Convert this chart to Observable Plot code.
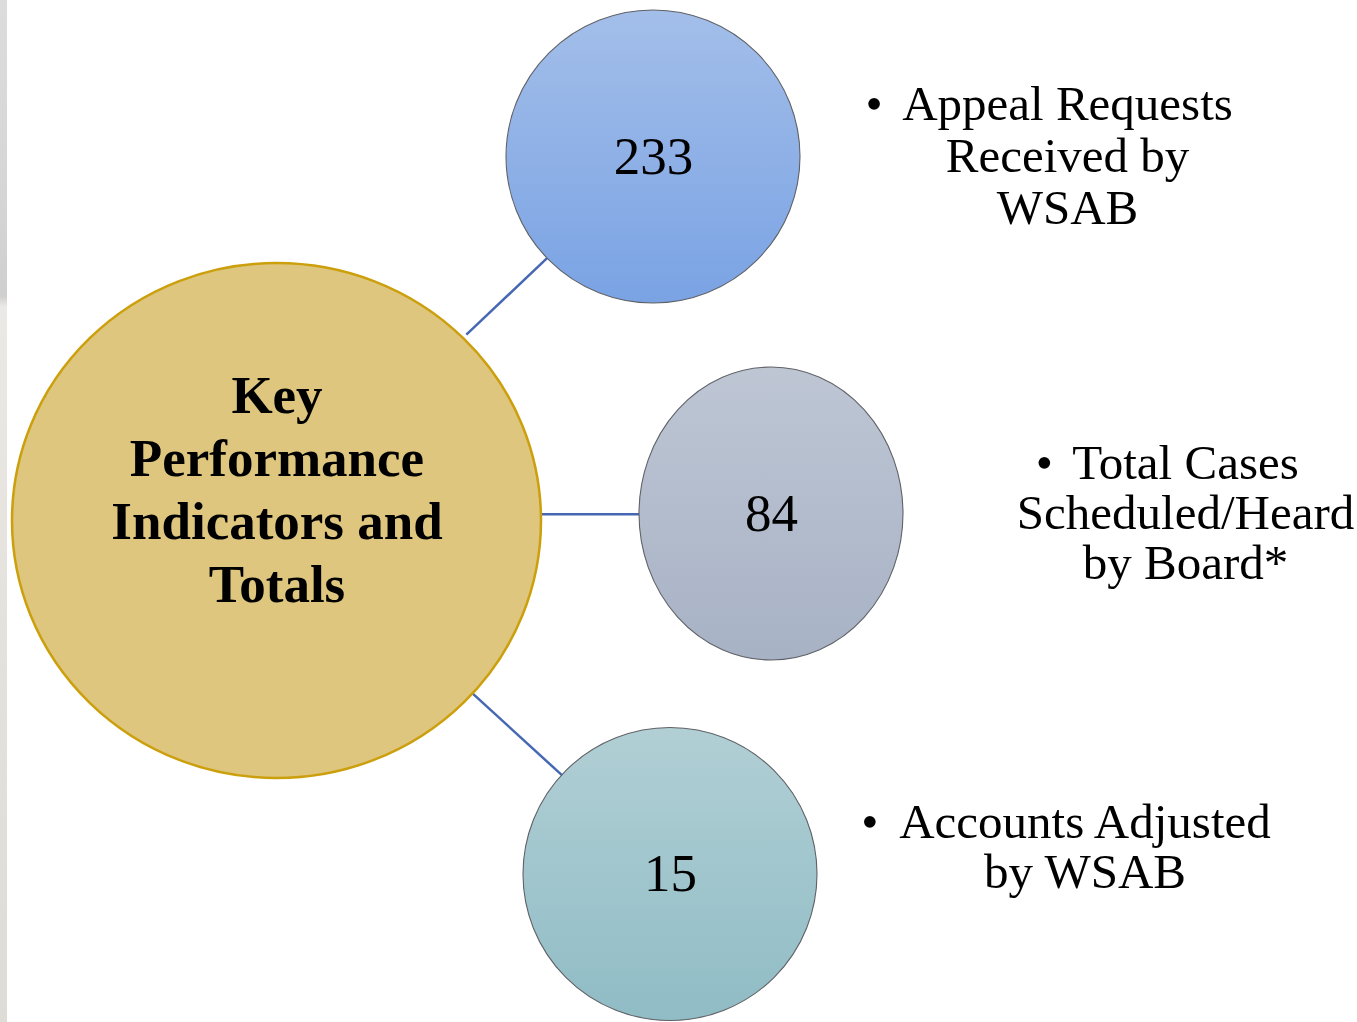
<!DOCTYPE html>
<html><head><meta charset="utf-8">
<script src="https://cdn.jsdelivr.net/npm/d3@7"></script>
<script src="https://cdn.jsdelivr.net/npm/@observablehq/plot@0.6"></script>
<style>html,body{margin:0;padding:0;background:#fff;overflow:hidden}#chart svg{display:block}</style>
</head><body><div id="chart"></div>
<script>
// ---- data ----
const values = [233, 84, 15];
const labels = [
  "Appeal Requests\nReceived by\nWSAB",
  "Total Cases\nScheduled/Heard\nby Board*",
  "Accounts Adjusted\nby WSAB"
];
const hubLabel = "Key\nPerformance\nIndicators and\nTotals";

// ---- layout (pixel units of the identity scales) ----
const nodeCx = [653, 771, 670];
const nodeCy = [156.5, 513.5, 874];
const nodeRx = [147, 132, 147];
const nodeRy = [146.5, 146.5, 146.5];
const labelCx = [1067, 1185, 1084.5];
const labelCy = [155.5, 513, 847];
const labelLineHeight = [1.06, 1.02, 1.02];
const hub = {cx: 276.5, cy: 520.5, rx: 264.5, ry: 257.5, textCy: 487, linkCy: 514};

// ---- styles ----
const nodeTop = ["#a3bee9", "#bec6d4", "#b1cfd5"];
const nodeBottom = ["#7aa3e4", "#a7b2c5", "#90bcc5"];
const serif = "'Liberation Serif', 'Times New Roman', serif";
const labelSize = 49;

const W = 1357, H = 1022;

const nodes = values.map((v, i) => ({
  value: v, label: labels[i],
  cx: nodeCx[i], cy: nodeCy[i], rx: nodeRx[i], ry: nodeRy[i],
  lx: labelCx[i], ly: labelCy[i]
}));

// connector endpoints on the ellipse outlines
function edgeT(rx, ry, ux, uy) { return 1 / Math.sqrt((ux / rx) ** 2 + (uy / ry) ** 2); }
const links = nodes.map(n => {
  const dx = n.cx - hub.cx, dy = n.cy - hub.linkCy, L = Math.hypot(dx, dy);
  const ux = dx / L, uy = dy / L;
  const t0 = edgeT(hub.rx, hub.ry, ux, uy), t1 = edgeT(n.rx, n.ry, ux, uy);
  return {x1: hub.cx + ux * t0, y1: hub.linkCy + uy * t0, x2: n.cx - ux * t1, y2: n.cy - uy * t1};
});

// label lines and bullets
const ctx = document.createElement("canvas").getContext("2d");
ctx.font = `${labelSize}px 'Liberation Serif'`;
const labelLines = [];
const bullets = [];
nodes.forEach((n, i) => {
  const lines = n.label.split("\n");
  const lh = labelLineHeight[i] * labelSize;
  const firstY = n.ly - (lines.length - 1) / 2 * lh;
  lines.forEach((t, j) => labelLines.push({text: t, x: n.lx, y: firstY + j * lh}));
  const w = ctx.measureText(lines[0]).width;
  bullets.push({x: n.lx - w / 2 - 28, y: firstY});
});

const defs = () => {
  const d = d3.create("svg:defs");
  nodes.forEach((n, i) => {
    const g = d.append("linearGradient").attr("id", "ng" + i)
      .attr("x1", 0).attr("y1", 0).attr("x2", 0).attr("y2", 1);
    g.append("stop").attr("offset", "0%").attr("stop-color", nodeTop[i]);
    g.append("stop").attr("offset", "100%").attr("stop-color", nodeBottom[i]);
  });
  const s = d.append("linearGradient").attr("id", "strip")
    .attr("x1", 0).attr("y1", 0).attr("x2", 0).attr("y2", 1);
  [["0%", "#dcdcdc"], ["18%", "#d6d6d6"], ["29%", "#cfcfcf"], ["30%", "#ebe9e5"], ["60%", "#e5e2dd"], ["100%", "#dfdcd7"]]
    .forEach(([o, c]) => s.append("stop").attr("offset", o).attr("stop-color", c));
  return d.node();
};

const marks = [
  defs,
  Plot.rect([{x1: 0, x2: 7, y1: 0, y2: H}], {x1: "x1", x2: "x2", y1: "y1", y2: "y2", fill: "url(#strip)"}),
  Plot.link(links, {x1: "x1", y1: "y1", x2: "x2", y2: "y2", stroke: "#4668b4", strokeWidth: 2.5}),
  Plot.rect([hub], {
    x1: d => d.cx - d.rx, x2: d => d.cx + d.rx, y1: d => d.cy - d.ry, y2: d => d.cy + d.ry,
    rx: hub.rx, ry: hub.ry, fill: "#dec67f", stroke: "#cc9f0c", strokeWidth: 2.5
  }),
  ...nodes.map((n, i) => Plot.rect([n], {
    x1: d => d.cx - d.rx, x2: d => d.cx + d.rx, y1: d => d.cy - d.ry, y2: d => d.cy + d.ry,
    rx: n.rx, ry: n.ry, fill: `url(#ng${i})`, stroke: "#5f6166", strokeWidth: 1.1
  })),
  Plot.text([hub], {
    x: "cx", y: "textCy", text: () => hubLabel, fontFamily: serif, fontSize: 53, fontWeight: "bold",
    lineHeight: 1.19, textAnchor: "middle", lineAnchor: "middle", fill: "#000"
  }),
  Plot.text(nodes, {
    x: "cx", y: "cy", text: d => String(d.value), fontFamily: serif, fontSize: 53,
    textAnchor: "middle", fill: "#000"
  }),
  Plot.text(labelLines, {
    x: "x", y: "y", text: "text", fontFamily: serif, fontSize: labelSize,
    textAnchor: "middle", fill: "#000"
  }),
  Plot.text(bullets, {x: "x", y: "y", text: () => "\u2022", fontFamily: serif, fontSize: labelSize, textAnchor: "middle", fill: "#000"})
];

const chart = Plot.plot({
  width: W, height: H, margin: 0,
  x: {domain: [0, W], range: [0, W], axis: null},
  y: {domain: [0, H], range: [0, H], axis: null},
  style: {background: "#fff", overflow: "visible"},
  marks
});
document.getElementById("chart").append(chart);
</script>
</body></html>
